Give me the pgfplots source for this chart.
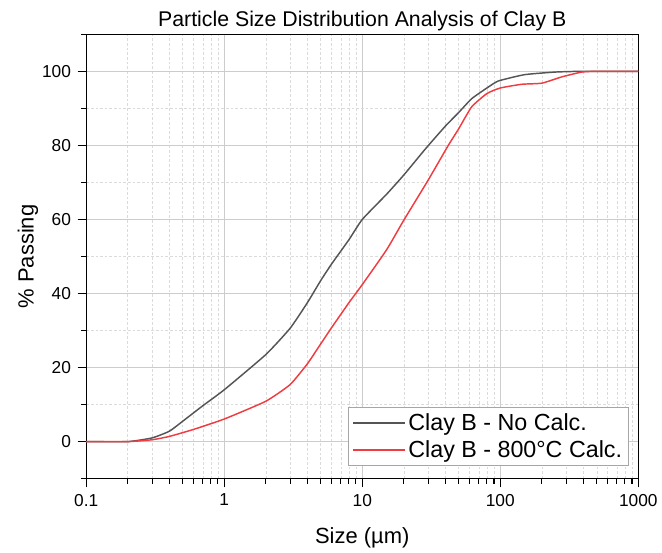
\documentclass[border=0pt]{standalone}
\usepackage{pgfplots}
\pgfplotsset{compat=1.18}
\usepackage{fontspec}
\setmainfont{Liberation Sans}
\definecolor{cgray}{RGB}{85,85,85}
\definecolor{cred}{RGB}{240,60,65}
\pgfplotsset{
  grayline/.style={color=cgray, line width=1.1pt},
  redline/.style={color=cred, line width=1.1pt},
}
\begin{document}
\begin{tikzpicture}
\begin{axis}[
  scale only axis,
  width=415pt, height=334pt,
  xmode=log, xmin=0.1, xmax=1000,
  ymin=-10, ymax=110,
  xtick={0.1,1,10,100,1000},
  xticklabels={0.1,1,10,100,1000},
  ytick={0,20,40,60,80,100},
  minor ytick={-10,10,30,50,70,90,110},
  /pgf/number format/assume math mode=true,
  tick label style={font=\fontsize{13}{15}\selectfont},
  yticklabel style={xshift=-1.5pt},
  xticklabel style={yshift=-1.5pt},
  xtick pos=bottom, ytick pos=left,
  tick align=outside,
  major tick length=6.5pt, minor tick length=3.8pt,
  every tick/.style={black, line width=0.8pt},
  axis line style={line width=1pt},
  grid=both,
  major grid style={gray!40, line width=0.5pt},
  minor grid style={gray!28, dash pattern=on 2pt off 1.5pt, line width=0.4pt},
  xlabel={Size (µm)},
  ylabel={\% Passing},
  label style={font=\fontsize{16.5}{19}\selectfont},
  xlabel style={yshift=-9pt},
  ylabel style={yshift=-4pt},
  title={Particle Size Distribution Analysis of Clay B},
  title style={font=\fontsize{16}{19}\selectfont, yshift=-7pt},
  legend style={at={(1,0)}, anchor=south east, xshift=-7pt, yshift=9.5pt,
    font=\fontsize{17.5}{21}\selectfont, draw=gray!70,
    inner sep=3pt, row sep=1.5pt, cells={anchor=west}},
  legend cell align=left,
  legend image code/.code={\draw[#1, line width=1.5pt] (0cm,0.1pt) -- (1.37cm,0.1pt);},
]
\addplot[grayline, smooth, tension=0.3] coordinates {
(0.1,0) (0.2,0) (0.3,1.0) (0.4,2.8) (0.5,5.5) (0.7,9.7) (1,14) (2,23.5) (3,30.6) (4,37.5) (5,43.5) (6,48) (8,54.5) (10,60) (15,66.8) (20,72) (28.6,79) (40,85.2) (50,88.9) (62,92.6) (80,95.5) (97,97.4) (150,99.1) (250,99.8) (390,100) (1000,100)
};
\addlegendentry{Clay B - No Calc.}
\addplot[redline, smooth, tension=0.3] coordinates {
(0.1,0) (0.2,0) (0.3,0.5) (0.4,1.4) (0.6,3.3) (1,6.1) (2,10.9) (3,15.4) (4,21) (5,26.4) (6,30.8) (8,37.5) (10,42.4) (15,51.8) (20,59.8) (30,70.6) (42,80) (50,84.5) (62,90.4) (80,94) (100,95.5) (143,96.5) (200,96.8) (279,98.5) (390,99.8) (500,100) (1000,100)
};
\addlegendentry{Clay B - 800°C Calc.}
\end{axis}
\path ([xshift=-10pt]current axis.outer west);
\path ([yshift=5pt]current axis.outer north);
\end{tikzpicture}
\end{document}
